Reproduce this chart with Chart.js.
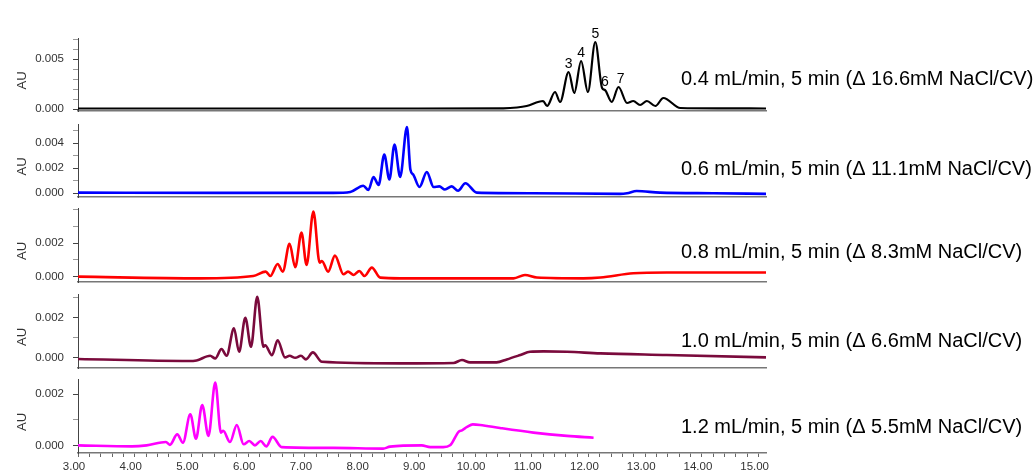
<!DOCTYPE html>
<html><head><meta charset="utf-8">
<script src="https://cdn.jsdelivr.net/npm/chart.js@4.4.1/dist/chart.umd.min.js"></script>
<style>
html,body{margin:0;padding:0;background:#fff;overflow:hidden}
#wrap{position:relative;width:1033px;height:475px}
canvas{position:absolute;left:0;top:0}
</style></head><body><div id="wrap"></div>
<script>
// ---------- DATA ----------
const runLabels = [
  '0.4 mL/min, 5 min (\u0394 16.6mM NaCl/CV)',
  '0.6 mL/min, 5 min (\u0394 11.1mM NaCl/CV)',
  '0.8 mL/min, 5 min (\u0394 8.3mM NaCl/CV)',
  '1.0 mL/min, 5 min (\u0394 6.6mM NaCl/CV)',
  '1.2 mL/min, 5 min (\u0394 5.5mM NaCl/CV)'
];
const yAxisTitle = 'AU';

const run1Time = [3.0, 6.0, 9.0, 10.5, 10.74, 10.91, 11.20, 11.27, 11.41, 11.50, 11.65, 11.75, 11.87, 11.99, 12.12, 12.24, 12.29, 12.41, 12.53, 12.68, 12.79, 12.91, 13.03, 13.18, 13.32, 13.62, 14.3, 15.13];
const run1AU   = [0.00005, 0.00005, 0.00005, 0.00007, 0.00015, 0.0003, 0.0008, 0.0003, 0.0017, 0.0007, 0.0037, 0.0016, 0.0048, 0.0017, 0.0067, 0.0021, 0.0019, 0.0007, 0.0022, 0.0006, 0.0008, 0.0004, 0.0008, 0.0003, 0.0011, 0.0001, 0.00007, 0.00005];

const run2Time = [3.0, 5.5, 7.5, 7.80, 8.03, 8.12, 8.21, 8.30, 8.40, 8.49, 8.58, 8.68, 8.80, 8.86, 8.91, 9.02, 9.15, 9.27, 9.37, 9.47, 9.59, 9.70, 9.83, 10.03, 11.0, 12.56, 12.68, 12.85, 13.26, 14.2, 15.13];
const run2AU   = [0.00005, 0.00003, 0.00003, 0.0001, 0.0006, 0.00026, 0.0013, 0.00066, 0.0031, 0.0011, 0.0039, 0.0013, 0.0053, 0.0019, 0.0015, 0.0005, 0.0017, 0.0005, 0.00055, 0.0003, 0.00055, 0.0002, 0.0008, 0.00005, 0.0, -0.00005, 0.0, 0.00018, 0.00005, 0.0, -0.00005];

const run3Time = [3.0, 5.15, 6.09, 6.31, 6.39, 6.52, 6.61, 6.73, 6.83, 6.94, 7.03, 7.15, 7.26, 7.30, 7.41, 7.53, 7.68, 7.76, 7.86, 7.96, 8.05, 8.18, 8.33, 8.68, 10.68, 10.88, 11.09, 11.91, 12.21, 12.79, 13.38, 15.13];
const run3AU   = [0.0, -0.0001, 0.00004, 0.0003, 0.00004, 0.00076, 0.0003, 0.00196, 0.00056, 0.00264, 0.0007, 0.0039, 0.00084, 0.00094, 0.0003, 0.00126, 0.00014, 0.0003, 0.0001, 0.00034, 0.00004, 0.00054, -0.00006, -0.0001, -0.0001, 0.0001, -0.00005, -0.0001, -0.00005, 0.0002, 0.00025, 0.00025];

const run4Time = [3.0, 4.95, 5.09, 5.33, 5.42, 5.53, 5.62, 5.75, 5.84, 5.95, 6.05, 6.16, 6.27, 6.30, 6.42, 6.52, 6.65, 6.73, 6.83, 6.93, 7.02, 7.14, 7.30, 8.68, 9.62, 9.77, 9.91, 10.38, 10.56, 10.80, 10.97, 11.21, 11.62, 12.21, 13.38, 15.13];
const run4AU   = [-0.00008, -0.00018, -0.00015, 0.00008, -0.00005, 0.00042, 0.00008, 0.00145, 0.00028, 0.00198, 0.00053, 0.00303, 0.00053, 0.00061, 0.00011, 0.00086, 0.0, 0.00008, -0.00002, 0.00008, -0.0001, 0.00025, -0.00022, -0.0003, -0.00028, -0.00013, -0.00025, -0.00025, -0.0001, 0.00012, 0.00028, 0.0003, 0.00028, 0.0002, 0.00012, 0.0];

const run5Time = [3.0, 3.95, 4.21, 4.55, 4.62, 4.75, 4.85, 4.98, 5.08, 5.19, 5.30, 5.42, 5.52, 5.56, 5.68, 5.80, 5.92, 6.02, 6.12, 6.22, 6.32, 6.43, 6.59, 7.50, 8.38, 8.50, 9.06, 9.21, 9.44, 9.56, 9.71, 9.77, 9.86, 9.96, 10.09, 10.44, 11.03, 11.62, 12.09];
const run5AU   = [0.0, -0.00004, 0.0, 0.00013, 0.00002, 0.00043, 0.0001, 0.00122, 0.00026, 0.00158, 0.00037, 0.00246, 0.0005, 0.00057, 0.00013, 0.0008, 0.00004, 0.00017, 0.0, 0.00017, -0.00004, 0.00033, -0.00007, -0.0001, -0.00013, -0.00005, 0.0, -0.00007, -0.00007, 0.0, 0.00053, 0.00059, 0.00072, 0.00082, 0.0008, 0.00068, 0.0005, 0.00037, 0.0003];

const peakNames = ['3', '4', '5', '6', '7'];
const peakTimes = [11.65, 11.87, 12.12, 12.29, 12.53];

// ---------- STYLE / LAYOUT ----------
Chart.defaults.font.family = "'Liberation Sans', Arial, sans-serif";
const W = 1033, H = 475, LEFT = 78, RIGHT = 766;
const panels = [
  {time: run1Time, au: run1AU, color: '#000000', top: 38,  bottom: 111, min: -0.0002,  max: 0.0071,  major: 0.005, minor: 0.001, textBase: 85,  lw: 2.2},
  {time: run2Time, au: run2AU, color: '#0000ff', top: 124, bottom: 197, min: -0.0003,  max: 0.00554, major: 0.002, minor: 0.001, textBase: 175, lw: 2.6},
  {time: run3Time, au: run3AU, color: '#ff0000', top: 208, bottom: 282, min: -0.00032, max: 0.00411, major: 0.002, minor: 0.001, textBase: 258, lw: 2.6},
  {time: run4Time, au: run4AU, color: '#7a0a3c', top: 294, bottom: 368, min: -0.00053, max: 0.00317, major: 0.002, minor: 0.001, textBase: 347, lw: 2.6},
  {time: run5Time, au: run5AU, color: '#ff00ff', top: 379, bottom: 453, min: -0.0003,  max: 0.0026,  major: 0.002, minor: 0.001, textBase: 433, lw: 2.6}
];

const wrap = document.getElementById('wrap');

panels.forEach((p, i) => {
  const isLast = i === panels.length - 1;
  const cv = document.createElement('canvas');
  cv.width = W; cv.height = H;
  cv.style.width = W + 'px'; cv.style.height = H + 'px';
  wrap.appendChild(cv);

  const isMajor = (v) => Math.abs(v / p.major - Math.round(v / p.major)) < 1e-6 && v <= p.max - 0.0002;

  const overlay = {
    id: 'overlay' + i,
    afterDraw(chart) {
      const ctx = chart.ctx;
      const ca = chart.chartArea;
      ctx.save();
      ctx.fillStyle = '#333';
      ctx.font = "13px 'Liberation Sans', Arial, sans-serif";
      ctx.translate(22, (ca.top + ca.bottom) / 2 + 6);
      ctx.rotate(-Math.PI / 2);
      ctx.textAlign = 'center';
      ctx.textBaseline = 'middle';
      ctx.fillText(yAxisTitle, 0, 0);
      ctx.restore();

      ctx.save();
      ctx.fillStyle = '#000';
      ctx.font = "20px 'Liberation Sans', Arial, sans-serif";
      ctx.textAlign = 'left';
      ctx.textBaseline = 'alphabetic';
      ctx.fillText(runLabels[i], 681, p.textBase);
      ctx.restore();

      if (i === 0) {
        const xs = chart.scales.x, ys = chart.scales.y;
        ctx.save();
        ctx.fillStyle = '#000';
        ctx.font = "14px 'Liberation Sans', Arial, sans-serif";
        ctx.textAlign = 'center';
        ctx.textBaseline = 'alphabetic';
        peakNames.forEach((name, k) => {
          const idx = p.time.indexOf(peakTimes[k]);
          const px = xs.getPixelForValue(p.time[idx]);
          const py = ys.getPixelForValue(p.au[idx]);
          ctx.fillText(name, px + (k === 4 ? 2 : 0), py - 4);
        });
        ctx.restore();
      }
    }
  };

  new Chart(cv, {
    type: 'line',
    data: {
      datasets: [{
        data: p.time.map((t, k) => ({x: t, y: p.au[k]})),
        borderColor: p.color,
        borderWidth: p.lw,
        pointRadius: 0,
        fill: false,
        cubicInterpolationMode: 'monotone'
      }]
    },
    options: {
      responsive: false,
      animation: false,
      events: [],
      layout: {padding: {left: 0, right: W - RIGHT, top: p.top, bottom: isLast ? 0 : H - p.bottom}},
      plugins: {legend: {display: false}, tooltip: {enabled: false}},
      scales: {
        x: {
          type: 'linear',
          min: 3, max: 15.13,
          afterFit(axis) { axis.height = isLast ? H - p.bottom : 0; },
          afterBuildTicks(axis) {
            const arr = [];
            if (isLast) for (let k = 15; k <= 75; k++) arr.push({value: k / 5});
            axis.ticks = arr;
          },
          border: {display: true, color: '#777', width: 1.5},
          grid: {display: true, drawOnChartArea: false, drawTicks: isLast, tickLength: 4, color: '#666', tickColor: '#666'},
          ticks: {
            display: isLast,
            autoSkip: false,
            maxRotation: 0,
            padding: 3,
            labelOffset: -4,
            color: '#333',
            font: {size: 11.5},
            callback(v) { return Math.abs(v - Math.round(v)) < 1e-6 ? v.toFixed(2) : ''; }
          }
        },
        y: {
          type: 'linear',
          min: p.min, max: p.max,
          afterFit(axis) { axis.width = LEFT; },
          afterBuildTicks(axis) {
            const arr = [];
            const a = Math.ceil(p.min / p.minor - 1e-9), b = Math.floor(p.max / p.minor + 1e-9);
            for (let k = a; k <= b; k++) arr.push({value: Math.round(k * p.minor * 1e6) / 1e6});
            axis.ticks = arr;
          },
          border: {display: true, color: '#444', width: 1},
          grid: {
            display: true, drawOnChartArea: false, drawTicks: true, tickLength: 5,
            tickColor: (c) => (c.tick && isMajor(c.tick.value)) ? '#444' : '#999'
          },
          ticks: {
            autoSkip: false,
            padding: 9,
            color: '#333',
            font: {size: 11.5},
            callback(v) { return isMajor(v) ? Math.abs(v).toFixed(3) : ''; }
          }
        }
      }
    },
    plugins: [overlay]
  });
});
</script>
</body></html>
